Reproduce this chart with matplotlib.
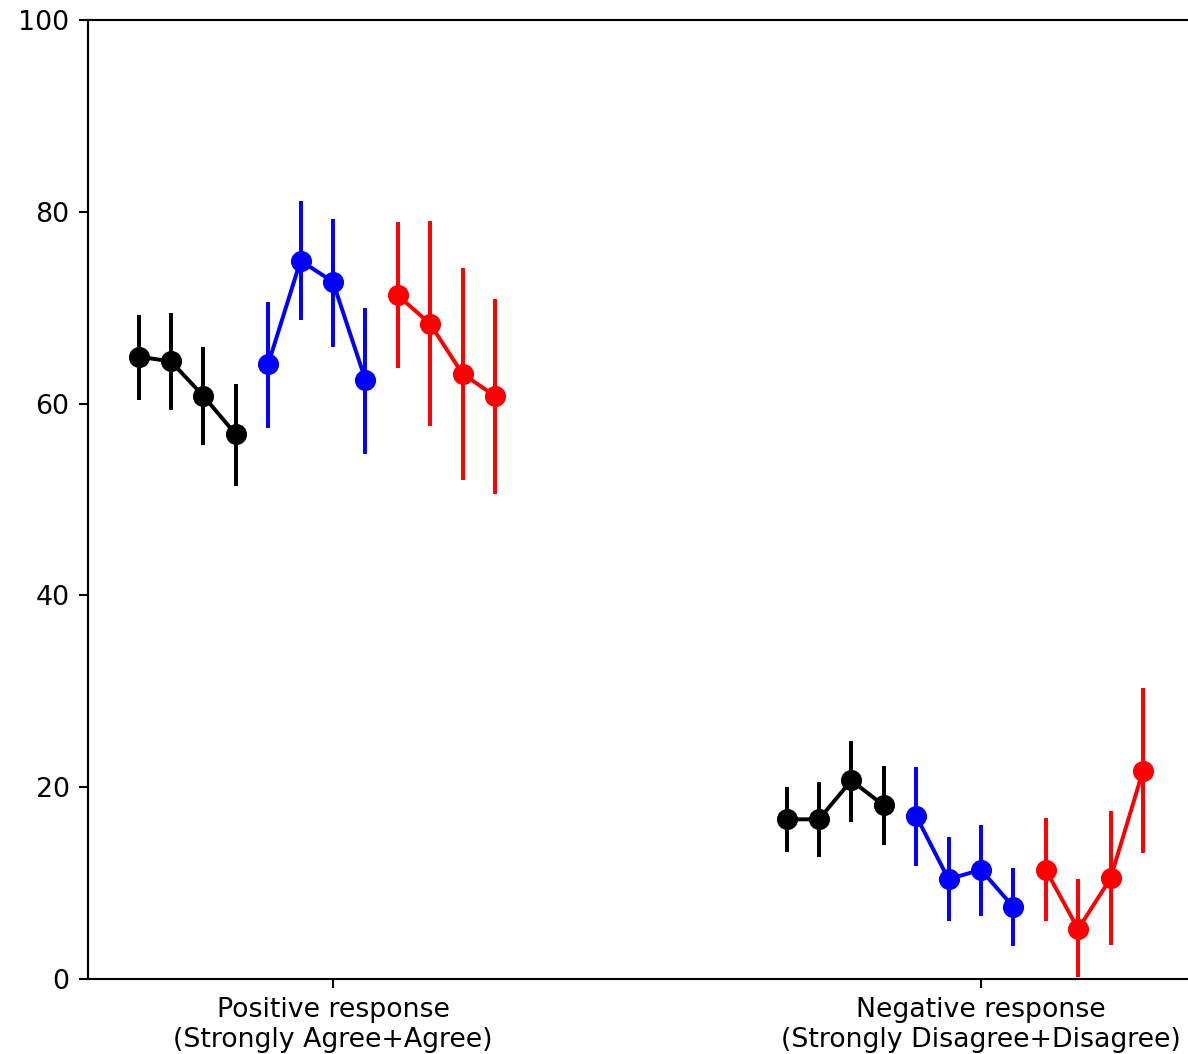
import matplotlib
matplotlib.use("Agg")
import matplotlib.pyplot as plt
import numpy as np

categories = ["Positive response\n(Strongly Agree+Agree)",
              "Negative response\n(Strongly Disagree+Disagree)"]
group_colors = ["black", "blue", "red"]

# mean values: [category][group][point]
means_positive = [[64.9, 64.4, 60.8, 56.8],
                  [64.1, 74.9, 72.7, 62.5],
                  [71.3, 68.3, 63.1, 60.8]]
lower_positive = [[60.4, 59.3, 55.7, 51.4],
                  [57.5, 68.7, 65.9, 54.7],
                  [63.7, 57.7, 52.0, 50.6]]
upper_positive = [[69.2, 69.4, 65.9, 62.0],
                  [70.6, 81.1, 79.3, 70.0],
                  [78.9, 79.0, 74.1, 70.9]]

means_negative = [[16.65, 16.65, 20.7, 18.1],
                  [17.0, 10.4, 11.4, 7.5],
                  [11.4, 5.2, 10.5, 21.7]]
lower_negative = [[13.2, 12.75, 16.4, 14.0],
                  [11.8, 6.0, 6.6, 3.4],
                  [6.1, 0.2, 3.5, 13.1]]
upper_negative = [[20.05, 20.5, 24.8, 22.2],
                  [22.1, 14.8, 16.1, 11.6],
                  [16.8, 10.4, 17.5, 30.3]]

yticks = [0, 20, 40, 60, 80, 100]

means = [means_positive, means_negative]
lowers = [lower_positive, lower_negative]
uppers = [upper_positive, upper_negative]

W, H = 1188, 1054
dpi = 190
fig = plt.figure(figsize=(W / dpi, H / dpi), dpi=dpi)
ax = fig.add_axes([88 / W, 75 / H, 1102 / W, 959 / H])

step = 0.05
for ci in range(len(categories)):
    for gi, color in enumerate(group_colors):
        m = np.array(means[ci][gi])
        lo = np.array(lowers[ci][gi])
        hi = np.array(uppers[ci][gi])
        idx = gi * 4 + np.arange(len(m))
        xs = ci + (idx - 6) * step
        ax.vlines(xs, lo, hi, color=color, lw=1.5, zorder=2)
        ax.plot(xs, m, color=color, lw=1.5, marker="o", markersize=7,
                zorder=3)

ax.set_xlim(-0.378, -0.378 + 1102 / 648)
ax.set_ylim(0, 100)
ax.set_yticks(yticks)
ax.set_xticks(range(len(categories)))
ax.set_xticklabels(categories, fontsize=10.15)
ax.tick_params(axis="both", labelsize=10.15, direction="out", length=3.5)
ax.spines["right"].set_visible(False)

fig.savefig("out.png", dpi=dpi)
